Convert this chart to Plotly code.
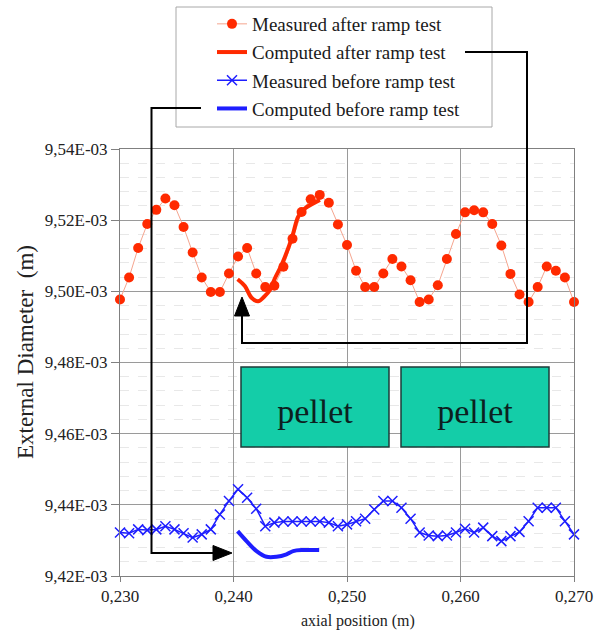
import numpy as np
import plotly.graph_objects as go

# ---------------- data ----------------
x_meas = [0.2300, 0.2308, 0.2316, 0.2324, 0.2332, 0.2340, 0.2348, 0.2356, 0.2364, 0.2372,
          0.2380, 0.2388, 0.2396, 0.2404, 0.2412, 0.2420, 0.2428, 0.2436, 0.2444, 0.2452,
          0.2460, 0.2468, 0.2476, 0.2484, 0.2492, 0.2500, 0.2508, 0.2516, 0.2524, 0.2532,
          0.2540, 0.2548, 0.2556, 0.2564, 0.2572, 0.2580, 0.2588, 0.2596, 0.2604, 0.2612,
          0.2620, 0.2628, 0.2636, 0.2644, 0.2652, 0.2660, 0.2668, 0.2676, 0.2684, 0.2692,
          0.2700]

# external diameter in mm (1e-3 m)
after_meas_mm = [9.4977, 9.5039, 9.5122, 9.5189, 9.5229, 9.5261, 9.5242, 9.5181, 9.5109, 9.5039,
                 9.4998, 9.4998, 9.5050, 9.5098, 9.5122, 9.5050, 9.5012, 9.5016, 9.5069, 9.5148,
                 9.5223, 9.5259, 9.5271, 9.5249, 9.5188, 9.5130, 9.5058, 9.5012, 9.5012, 9.5050,
                 9.5091, 9.5070, 9.5031, 9.4970, 9.4977, 9.5017, 9.5091, 9.5161, 9.5222, 9.5228,
                 9.5222, 9.5189, 9.5129, 9.5049, 9.4991, 9.4970, 9.5012, 9.5070, 9.5058, 9.5039,
                 9.4970]

before_meas_mm = [9.4322, 9.4320, 9.4331, 9.4329, 9.4331, 9.4340, 9.4331, 9.4320, 9.4308, 9.4317,
                  9.4331, 9.4373, 9.4411, 9.4444, 9.4420, 9.4389, 9.4340, 9.4350, 9.4353, 9.4353,
                  9.4353, 9.4353, 9.4353, 9.4350, 9.4340, 9.4345, 9.4354, 9.4361, 9.4387, 9.4411,
                  9.4411, 9.4392, 9.4361, 9.4322, 9.4314, 9.4312, 9.4314, 9.4322, 9.4333, 9.4322,
                  9.4336, 9.4312, 9.4298, 9.4312, 9.4324, 9.4354, 9.4392, 9.4392, 9.4392, 9.4354,
                  9.4317]

x_comp_after = [0.24036, 0.24100, 0.24159, 0.24217, 0.24270, 0.24320, 0.24364, 0.24423,
                0.24482, 0.24526, 0.24570, 0.24629, 0.24702, 0.24761]
after_comp_mm = [9.5034, 9.5015, 9.4982, 9.4972, 9.4985, 9.5003, 9.5036, 9.5074,
                 9.5121, 9.5163, 9.5210, 9.5233, 9.5247, 9.5257]

x_comp_before = [0.24036, 0.24115, 0.24203, 0.24291, 0.24379, 0.24467, 0.24526, 0.24614, 0.24755]
before_comp_mm = [9.4326, 9.4298, 9.4270, 9.4254, 9.4254, 9.4261, 9.4270, 9.4273, 9.4273]

x_ticks = [0.230, 0.240, 0.250, 0.260, 0.270]
x_ticktext = ["0,230", "0,240", "0,250", "0,260", "0,270"]
y_ticks_mm = [9.42, 9.44, 9.46, 9.48, 9.50, 9.52, 9.54]
y_ticktext = ["9,42E-03", "9,44E-03", "9,46E-03", "9,48E-03", "9,50E-03", "9,52E-03", "9,54E-03"]

names = ["Measured after ramp test", "Computed after ramp test",
         "Measured before ramp test", "Computed before ramp test"]

# ---------------- layout helpers ----------------
W, H = 604, 637
L, R, T, B = 120, 30, 149, 61
PW, PH = W - L - R, H - T - B


def px(p):
    return (p - L) / PW


def py(p):
    return (H - B - p) / PH


RED = "#ff2a00"
BLUE = "#1e1eff"
FONT = "Liberation Serif"

mm = 1e-3
fig = go.Figure()
fig.add_trace(go.Scatter(
    x=x_meas, y=np.array(after_meas_mm) * mm, name=names[0], mode="lines+markers",
    legendgroup="g1",
    line=dict(color="#f5a58f", width=1), marker=dict(color=RED, size=10, symbol="circle"),
    cliponaxis=False))
fig.add_trace(go.Scatter(
    x=x_comp_after, y=np.array(after_comp_mm) * mm, name=names[1], mode="lines",
    legendgroup="g2",
    line=dict(color=RED, width=4, shape="spline"), cliponaxis=False))
fig.add_trace(go.Scatter(
    x=x_meas, y=np.array(before_meas_mm) * mm, name=names[2], mode="lines+markers",
    legendgroup="g3",
    line=dict(color=BLUE, width=1.5),
    marker=dict(color=BLUE, size=10, symbol="x-thin-open", line=dict(color=BLUE, width=1.5)),
    cliponaxis=False))
fig.add_trace(go.Scatter(
    x=x_comp_before, y=np.array(before_comp_mm) * mm, name=names[3], mode="lines",
    legendgroup="g4",
    line=dict(color=BLUE, width=4, shape="spline"), cliponaxis=False))

shapes = []
# legend box
shapes.append(dict(type="rect", xref="paper", yref="paper",
                   x0=px(176), x1=px(492), y0=py(127), y1=py(7),
                   line=dict(color="#a8a8a8", width=1)))
# pellets
for (a, b) in [(241, 389), (401, 549)]:
    shapes.append(dict(type="rect", xref="paper", yref="paper",
                       x0=px(a), x1=px(b), y0=py(447), y1=py(367),
                       fillcolor="#14cda8", line=dict(color="#1d3b38", width=1.5),
                       label=dict(text="pellet", font=dict(family=FONT, size=34, color="#0c2020"))))


def path(pts, close=False):
    s = "M " + " L ".join(f"{px(a):.5f},{py(b):.5f}" for a, b in pts)
    return s + (" Z" if close else "")


# arrow 1 (computed after)
shapes.append(dict(type="path", xref="paper", yref="paper",
                   path=path([(465, 52), (527, 52), (527, 343), (242, 343), (242, 314)]),
                   line=dict(color="black", width=2)))
shapes.append(dict(type="path", xref="paper", yref="paper",
                   path=path([(242, 297), (234.5, 316), (249.5, 316)], True),
                   fillcolor="black", line=dict(color="black", width=1)))
# arrow 2 (computed before)
shapes.append(dict(type="path", xref="paper", yref="paper",
                   path=path([(201, 108), (151.5, 108), (151.5, 553), (214, 553)]),
                   line=dict(color="black", width=2)))
shapes.append(dict(type="path", xref="paper", yref="paper",
                   path=path([(232, 553), (213, 545.5), (213, 560.5)], True),
                   fillcolor="black", line=dict(color="black", width=1)))

annotations = [
    dict(text="External Diameter  (m)", xref="paper", yref="paper", x=px(25), y=py(352),
         showarrow=False, textangle=-90, font=dict(family=FONT, size=23, color="#222"),
         xanchor="center", yanchor="middle"),
    dict(text="axial position (m)", xref="paper", yref="paper", x=px(358), y=py(621),
         showarrow=False, font=dict(family=FONT, size=16, color="#222"),
         xanchor="center", yanchor="middle"),
]

fig.update_layout(
    width=W, height=H, margin=dict(l=L, r=R, t=T, b=B, autoexpand=False),
    paper_bgcolor="white", plot_bgcolor="white",
    font=dict(family=FONT, size=17, color="#222"),
    shapes=shapes, annotations=annotations,
    showlegend=True,
    legend=dict(x=px(212), y=py(5), xanchor="left", yanchor="top",
                bgcolor="rgba(0,0,0,0)", borderwidth=0,
                font=dict(family=FONT, size=19, color="#1a1a1a"),
                itemwidth=30, tracegroupgap=0.5, traceorder="grouped"),
)
fig.update_xaxes(range=[0.230, 0.270], tickvals=x_ticks, ticktext=x_ticktext,
                 showgrid=True, gridcolor="#9a9a9a", gridwidth=1,
                 showline=True, linecolor="#808080", linewidth=1, mirror=True,
                 ticks="outside", ticklen=5, tickcolor="#808080",
                 tickfont=dict(family=FONT, size=17), zeroline=False)
fig.update_yaxes(range=[9.42e-3, 9.54e-3], tickvals=list(np.array(y_ticks_mm) * mm),
                 ticktext=y_ticktext,
                 showgrid=True, gridcolor="#9a9a9a", gridwidth=1,
                 minor=dict(dtick=0.004e-3, showgrid=True, gridcolor="#e8e8e8",
                            griddash="dash", gridwidth=1),
                 showline=True, linecolor="#808080", linewidth=1, mirror=True,
                 ticks="outside", ticklen=8, tickcolor="#808080",
                 tickfont=dict(family=FONT, size=17), zeroline=False)

fig.write_html("out.html")
